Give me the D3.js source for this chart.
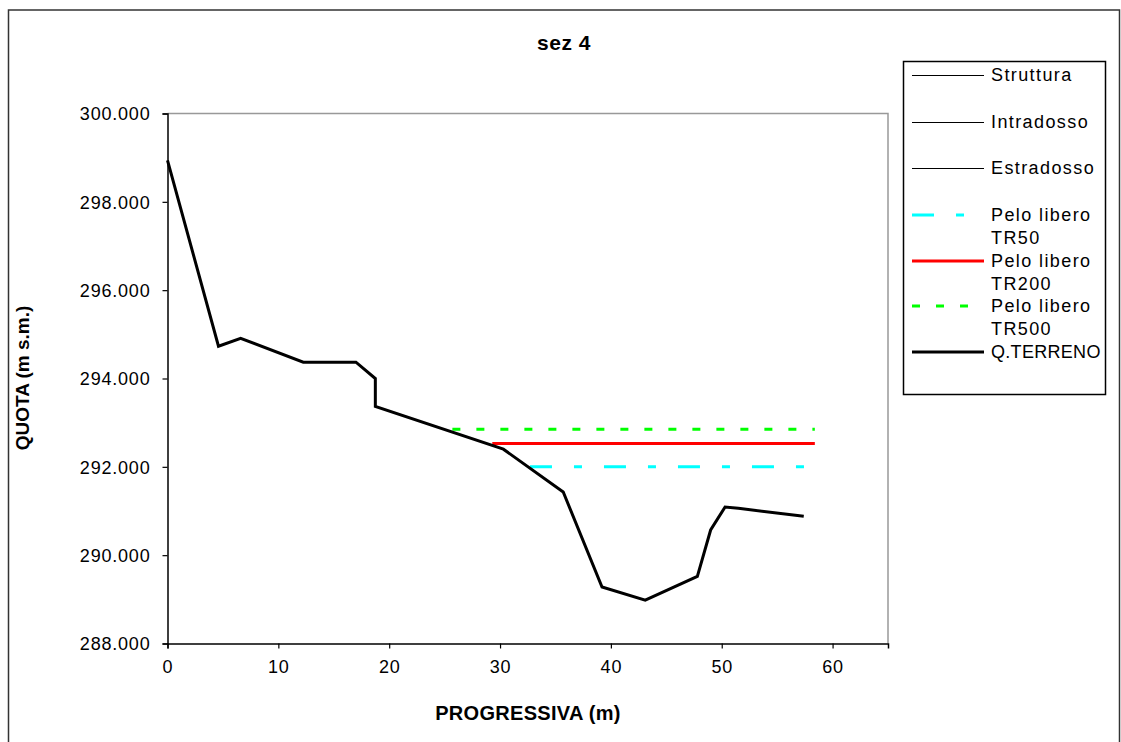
<!DOCTYPE html>
<html><head><meta charset="utf-8">
<script src="https://cdn.jsdelivr.net/npm/d3@7/dist/d3.min.js"></script>
<style>
body{margin:0;background:#fff;}
svg text{font-family:"Liberation Sans",Arial,sans-serif;fill:#000;}
</style></head>
<body><svg id="c" width="1121" height="742"></svg>
<script>
// ---- data ----
const terrenoX = [0, 4.6, 6.6, 12.25, 17.0, 18.75, 18.75, 30.3, 35.7, 39.2, 43.1, 47.8, 49.0, 50.3, 51.5, 57.4];
const terrenoY = [298.94, 294.73, 294.91, 294.37, 294.37, 294.0, 293.37, 292.40, 291.43, 289.28, 288.98, 289.52, 290.57, 291.09, 291.06, 290.88];
const tr50X = [32.7, 58.4];   const tr50Y = [292.0, 292.0];
const tr200X = [29.3, 58.4];  const tr200Y = [292.53, 292.53];
const tr500X = [25.7, 58.4];  const tr500Y = [292.85, 292.85];
const xTicks = [0, 10, 20, 30, 40, 50, 60];
const yTicks = [288, 290, 292, 294, 296, 298, 300];
const legendNames = [["Struttura"], ["Intradosso"], ["Estradosso"], ["Pelo libero", "TR50"], ["Pelo libero", "TR200"], ["Pelo libero", "TR500"], ["Q.TERRENO"]];
const titleText = "sez 4";
const xLabel = "PROGRESSIVA (m)";
const yLabel = "QUOTA (m s.m.)";

// ---- styles ----
const legendStyles = [
  {color:"#000", w:1, dash:null},
  {color:"#000", w:1, dash:null},
  {color:"#000", w:1, dash:null},
  {color:"#00ffff", w:3, dash:"22,22,8,22"},
  {color:"#ff0000", w:3, dash:null},
  {color:"#00ff00", w:3, dash:"8,16"},
  {color:"#000", w:3, dash:null}
];

const svg = d3.select("#c");
// outer frame
svg.append("rect").attr("x",8.5).attr("y",10).attr("width",1111).attr("height",760)
  .attr("fill","none").attr("stroke","#333").attr("stroke-width",1.5);

const L=167.5, T=113.5, R=888, B=643.5;
const x = d3.scaleLinear().domain([0,65]).range([L,R]);
const y = d3.scaleLinear().domain([288,300]).range([B,T]);

// plot border gray (top/right)
svg.append("path").attr("d",`M${L},${T}H${R}V${B}`).attr("fill","none").attr("stroke","#999").attr("stroke-width",1.5);

// axes
const gx = svg.append("g").attr("transform",`translate(0,${B})`)
  .call(d3.axisBottom(x).tickValues(xTicks).tickSize(5).tickPadding(12).tickFormat(d3.format("d")));
const gy = svg.append("g").attr("transform",`translate(${L},0)`)
  .call(d3.axisLeft(y).tickValues(yTicks).tickSize(5).tickPadding(12).tickFormat(d3.format(".3f")));
[gx,gy].forEach(g=>{
  g.select(".domain").attr("stroke","#000").attr("stroke-width",1.5);
  g.selectAll(".tick line").attr("stroke","#000").attr("stroke-width",1.2);
  g.selectAll("text").attr("font-size",18).attr("letter-spacing",0.8)
   .attr("font-family","'Liberation Sans',Arial,sans-serif").attr("fill","#000");
});
gx.selectAll("text").attr("dy","0.71em");
gy.selectAll("text").attr("dy","0.35em");

// series
const line = d3.line().x(d=>x(d[0])).y(d=>y(d[1]));
function series(xs, ys, st){
  svg.append("path").datum(xs.map((v,i)=>[v,ys[i]])).attr("d",line)
    .attr("fill","none").attr("stroke",st.color).attr("stroke-width",st.w)
    .attr("stroke-dasharray",st.dash).attr("stroke-linejoin","miter");
}
series(tr500X, tr500Y, legendStyles[5]);
series(tr200X, tr200Y, legendStyles[4]);
series(tr50X, tr50Y, legendStyles[3]);
series(terrenoX, terrenoY, legendStyles[6]);

// title & labels
svg.append("text").attr("x",564).attr("y",50).attr("text-anchor","middle")
  .attr("font-size",21).attr("font-weight","bold").attr("letter-spacing",0.5).text(titleText);
svg.append("text").attr("x",528).attr("y",720).attr("text-anchor","middle")
  .attr("font-size",20).attr("font-weight","bold").attr("letter-spacing",0.3).text(xLabel);
svg.append("text").attr("transform","translate(29,378) rotate(-90)").attr("text-anchor","middle")
  .attr("font-size",19).attr("font-weight","bold").text(yLabel);

// legend
svg.append("rect").attr("x",903.5).attr("y",61.5).attr("width",202).attr("height",333)
  .attr("fill","#fff").attr("stroke","#000").attr("stroke-width",1.5);
const legY = [75, 122, 168, 215, 261, 306, 352];
legendNames.forEach((names,i)=>{
  const st = legendStyles[i];
  const ly = st.w === 1 ? legY[i] + 0.5 : legY[i];
  svg.append("line").attr("x1",912).attr("x2",984).attr("y1",ly).attr("y2",ly)
    .attr("stroke",st.color).attr("stroke-width",st.w).attr("stroke-dasharray",st.dash);
  names.forEach((n,j)=>{
    svg.append("text").attr("x",991).attr("y",legY[i]+j*23).attr("dy","0.35em")
      .attr("font-size",18).attr("letter-spacing",i===6?0.3:1.4).text(n);
  });
});
</script></body></html>
